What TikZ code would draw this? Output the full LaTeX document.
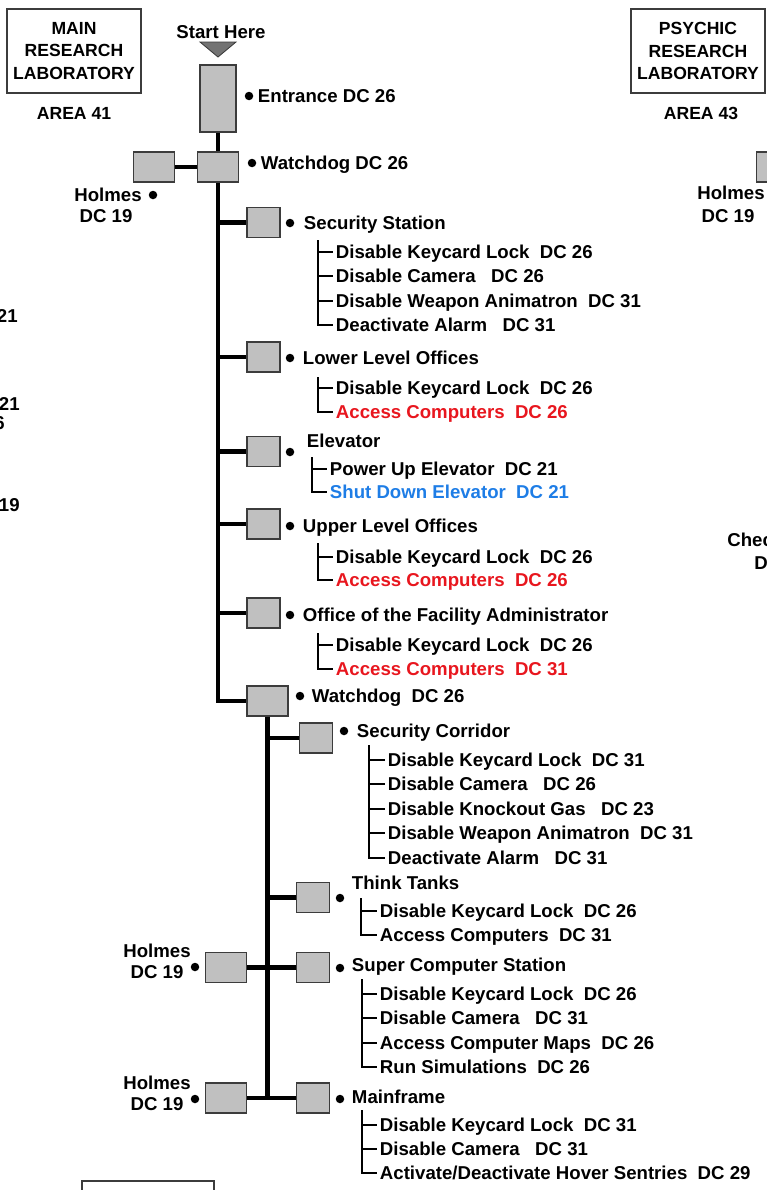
\documentclass[tikz,border=0pt]{standalone}
\usepackage{fontspec}
\setmainfont{Liberation Sans}
\usepackage{xcolor}
\usepackage{tikz}
\usetikzlibrary{positioning}

\definecolor{roomgray}{RGB}{192,192,192}
\definecolor{edgegray}{RGB}{60,60,60}
\definecolor{arrowgray}{RGB}{115,115,115}
\definecolor{hackred}{RGB}{232,22,30}
\definecolor{hackblue}{RGB}{30,125,230}

\begin{document}
\begin{tikzpicture}[x=0.02cm, y=-0.02cm, font=\bfseries\fontsize{10.6}{12}\selectfont,
    room/.style={draw=edgegray, fill=roomgray, line width=0.8pt, inner sep=0pt, minimum width=0.66cm, minimum height=0.6cm},
    wide/.style={room, minimum width=0.82cm},
    txt/.style={inner sep=0pt, text height=7.6pt, text depth=0pt},
    task/.style={txt, anchor=west, inner xsep=1.5pt},
    dot/.style={circle, fill=black, inner sep=0pt, minimum size=0.17cm},
    trunk/.style={line width=2.5pt},
    twig/.style={line width=1.2pt},
    lab/.style={draw=edgegray, line width=1pt, align=center, minimum width=2.64cm, minimum height=1.68cm, font=\bfseries\fontsize{10}{12.6}\selectfont}]
    \useasboundingbox (0,0) rectangle (767,1190);
    \clip (0,0) rectangle (767,1190);

    % lab titles
    \node [lab] (mainlab) at (74,51) {MAIN\\RESEARCH\\LABORATORY};
    \node [txt, font=\bfseries\fontsize{10}{12}\selectfont] (area41) at (74,113) {AREA 41};
    \node [lab] (psylab) at (698,51) {PSYCHIC\\RESEARCH\\LABORATORY};
    \node [txt, font=\bfseries\fontsize{10}{12}\selectfont] (area43) at (701,113) {AREA 43};

    % cut off by the page edges
    \node [txt, anchor=east] (left1) at (18,316) {DC 21};
    \node [txt, anchor=east] (left2) at (20,404) {DC 21};
    \node [txt, anchor=east] (left3) at (5,423) {DC 26};
    \node [txt, anchor=east] (left4) at (20,505) {DC 19};
    \node [wide] (hb2) at (777,167) {};
    \node [txt] (hb2txt) at (731,193) {Holmes};
    \node [txt] (hb2dc) at (728,216) {DC 19};
    \node [txt, anchor=west] (chk) at (727,540) {Checkpoint};
    \node [txt, anchor=west] (chkdc) at (754,563) {DC 21};
    \node [lab] (nextlab) at (148,1223) {};

    % start
    \node [txt] (start) at (221,32) {Start Here};
    \fill [arrowgray, draw=edgegray, line width=0.5pt] (200,42) -- (236,42) -- (218,57) -- cycle;
    \node [room, minimum width=0.72cm, minimum height=1.34cm] (entr) at (218,98.5) {};
    \node [dot] (entrdot) at (249,96) {};
    \node [task] (entrtxt) at (255,96) {Entrance DC 26};

    \node [wide] (wd1) at (218,167) {};
    \node [wide] (hb1) at (154,167) {};
    \node [dot] (wd1dot) at (252,163) {};
    \node [task] (wd1txt) at (258,163) {Watchdog DC 26};
    \node [txt, anchor=east] (hb1txt) at (142,195) {Holmes};
    \node [dot] (hb1dot) at (153,195) {};
    \node [txt] (hb1dc) at (106,216) {DC 19};
    \draw [trunk] (entr) -- (wd1);
    \draw [trunk] (hb1) -- (wd1);

    % first corridor
    \node [room] (ss) at (263.5,222.5) {};
    \node [room] (lo) at (263.5,357) {};
    \node [room] (el) at (263.5,451.5) {};
    \node [room] (uo) at (263.5,524) {};
    \node [room] (fa) at (263.5,613) {};
    \node [wide] (wd2) at (267.5,701) {};
    \draw [trunk] (wd1) |- (wd2);
    \draw [trunk] (ss -| wd1) -- (ss);
    \draw [trunk] (lo -| wd1) -- (lo);
    \draw [trunk] (el -| wd1) -- (el);
    \draw [trunk] (uo -| wd1) -- (uo);
    \draw [trunk] (fa -| wd1) -- (fa);

    \node [dot] (ssdot) at (290,223) {};
    \node [task] (sstxt) at (301,223) {Security Station};
    \coordinate (ssb) at (318,240);
    \node [task] (ss1) at (333,252) {Disable Keycard Lock\ \ DC 26};
    \node [task] (ss2) at (333,276) {Disable Camera\ \ \ DC 26};
    \node [task] (ss3) at (333,301) {Disable Weapon Animatron\ \ DC 31};
    \node [task] (ss4) at (333,325) {Deactivate Alarm\ \ \ DC 31};
    \draw [twig] (ssb) |- (ss4);
    \draw [twig] (ssb |- ss1) -- (ss1);
    \draw [twig] (ssb |- ss2) -- (ss2);
    \draw [twig] (ssb |- ss3) -- (ss3);

    \node [dot] (lodot) at (290,358) {};
    \node [task] (lotxt) at (300,358) {Lower Level Offices};
    \coordinate (lob) at (318,377);
    \node [task] (lo1) at (333,388) {Disable Keycard Lock\ \ DC 26};
    \node [task, hackred] (lo2) at (333,412) {Access Computers\ \ DC 26};
    \draw [twig] (lob) |- (lo2);
    \draw [twig] (lob |- lo1) -- (lo1);

    \node [dot] (eldot) at (290,452) {};
    \node [task] (eltxt) at (304,441) {Elevator};
    \coordinate (elb) at (312,457);
    \node [task] (el1) at (327,469) {Power Up Elevator\ \ DC 21};
    \node [task, hackblue] (el2) at (327,492) {Shut Down Elevator\ \ DC 21};
    \draw [twig] (elb) |- (el2);
    \draw [twig] (elb |- el1) -- (el1);

    \node [dot] (uodot) at (290,526) {};
    \node [task] (uotxt) at (300,526) {Upper Level Offices};
    \coordinate (uob) at (318,543);
    \node [task] (uo1) at (333,557) {Disable Keycard Lock\ \ DC 26};
    \node [task, hackred] (uo2) at (333,580) {Access Computers\ \ DC 26};
    \draw [twig] (uob) |- (uo2);
    \draw [twig] (uob |- uo1) -- (uo1);

    \node [dot] (fadot) at (290,615) {};
    \node [task] (fatxt) at (300,615) {Office of the Facility Administrator};
    \coordinate (fab) at (318,633);
    \node [task] (fa1) at (333,645) {Disable Keycard Lock\ \ DC 26};
    \node [task, hackred] (fa2) at (333,669) {Access Computers\ \ DC 31};
    \draw [twig] (fab) |- (fa2);
    \draw [twig] (fab |- fa1) -- (fa1);

    % second corridor
    \node [dot] (wd2dot) at (300,696) {};
    \node [task] (wd2txt) at (309,696) {Watchdog\ \ DC 26};
    \node [room] (cor) at (316,738) {};
    \node [room] (tt) at (313,897.5) {};
    \node [room] (scs) at (313,967.5) {};
    \node [wide] (hb3) at (226,967.5) {};
    \node [room] (mf) at (313,1098) {};
    \node [wide] (hb4) at (226,1098) {};
    \draw [trunk] (wd2) -- (wd2 |- mf);
    \draw [trunk] (cor -| wd2) -- (cor);
    \draw [trunk] (tt -| wd2) -- (tt);
    \draw [trunk] (hb3) -- (scs);
    \draw [trunk] (hb4) -- (mf);

    \node [dot] (cordot) at (344,731) {};
    \node [task] (cortxt) at (354,731) {Security Corridor};
    \coordinate (corb) at (369,745);
    \node [task] (cor1) at (385,760) {Disable Keycard Lock\ \ DC 31};
    \node [task] (cor2) at (385,784) {Disable Camera\ \ \ DC 26};
    \node [task] (cor3) at (385,809) {Disable Knockout Gas\ \ \ DC 23};
    \node [task] (cor4) at (385,833) {Disable Weapon Animatron\ \ DC 31};
    \node [task] (cor5) at (385,858) {Deactivate Alarm\ \ \ DC 31};
    \draw [twig] (corb) |- (cor5);
    \draw [twig] (corb |- cor1) -- (cor1);
    \draw [twig] (corb |- cor2) -- (cor2);
    \draw [twig] (corb |- cor3) -- (cor3);
    \draw [twig] (corb |- cor4) -- (cor4);

    \node [dot] (ttdot) at (340,898) {};
    \node [task] (tttxt) at (349,883) {Think Tanks};
    \coordinate (ttb) at (361,898);
    \node [task] (tt1) at (377,911) {Disable Keycard Lock\ \ DC 26};
    \node [task] (tt2) at (377,935) {Access Computers\ \ DC 31};
    \draw [twig] (ttb) |- (tt2);
    \draw [twig] (ttb |- tt1) -- (tt1);

    \node [dot] (scsdot) at (340,968) {};
    \node [task] (scstxt) at (349,965) {Super Computer Station};
    \coordinate (scsb) at (362,979);
    \node [task] (scs1) at (377,994) {Disable Keycard Lock\ \ DC 26};
    \node [task] (scs2) at (377,1018) {Disable Camera\ \ \ DC 31};
    \node [task] (scs3) at (377,1043) {Access Computer Maps\ \ DC 26};
    \node [task] (scs4) at (377,1067) {Run Simulations\ \ DC 26};
    \draw [twig] (scsb) |- (scs4);
    \draw [twig] (scsb |- scs1) -- (scs1);
    \draw [twig] (scsb |- scs2) -- (scs2);
    \draw [twig] (scsb |- scs3) -- (scs3);
    \node [txt] (hb3txt) at (157,951) {Holmes};
    \node [dot] (hb3dot) at (195,967) {};
    \node [txt] (hb3dc) at (157,972) {DC 19};

    \node [dot] (mfdot) at (340,1099) {};
    \node [task] (mftxt) at (349,1097) {Mainframe};
    \coordinate (mfb) at (362,1110);
    \node [task] (mf1) at (377,1125) {Disable Keycard Lock\ \ DC 31};
    \node [task] (mf2) at (377,1149) {Disable Camera\ \ \ DC 31};
    \node [task] (mf3) at (377,1173) {Activate/Deactivate Hover Sentries\ \ DC 29};
    \draw [twig] (mfb) |- (mf3);
    \draw [twig] (mfb |- mf1) -- (mf1);
    \draw [twig] (mfb |- mf2) -- (mf2);
    \node [txt] (hb4txt) at (157,1083) {Holmes};
    \node [dot] (hb4dot) at (195,1099) {};
    \node [txt] (hb4dc) at (157,1104) {DC 19};
\end{tikzpicture}
\end{document}
